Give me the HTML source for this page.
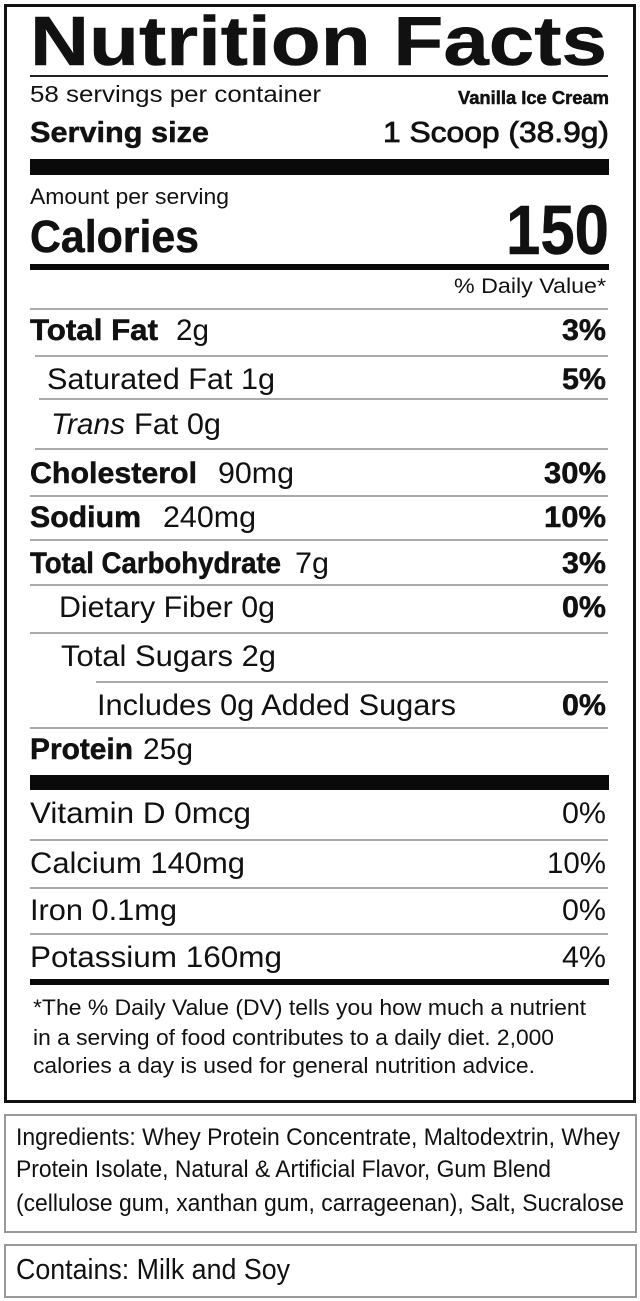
<!DOCTYPE html>
<html><head><meta charset="utf-8"><style>
html,body{margin:0;padding:0;background:#fff;}
svg{display:block;}
text{font-family:"Liberation Sans",Arial,sans-serif;fill:#111;}
.b{font-weight:bold;stroke:#111;stroke-width:0.5;}
</style></head><body>
<svg width="640" height="1301" viewBox="0 0 640 1301" xmlns="http://www.w3.org/2000/svg">
<rect x="0" y="0" width="640" height="1301" fill="#fff"/>
<rect x="5.5" y="5.5" width="629" height="1096" fill="none" stroke="#111" stroke-width="3"/>
<text x="30" y="65" class="b" font-size="70" stroke-width="1.2" textLength="577" lengthAdjust="spacingAndGlyphs">Nutrition Facts</text>
<rect x="30" y="75" width="578" height="2" fill="#222"/>
<text x="30" y="102" font-size="23" textLength="291" lengthAdjust="spacingAndGlyphs">58 servings per container</text>
<text x="609" y="104" class="b" font-size="18" stroke-width="0.2" text-anchor="end" textLength="151" lengthAdjust="spacingAndGlyphs">Vanilla Ice Cream</text>
<text x="30" y="142" class="b" font-size="29" textLength="179" lengthAdjust="spacingAndGlyphs">Serving size</text>
<text x="609" y="142" font-size="29" text-anchor="end" stroke="#111" stroke-width="0.8" textLength="226" lengthAdjust="spacingAndGlyphs">1 Scoop (38.9g)</text>
<rect x="30" y="159" width="579" height="16" fill="#0a0a0a"/>
<text x="30" y="204" font-size="22" textLength="199" lengthAdjust="spacingAndGlyphs">Amount per serving</text>
<text x="30" y="252" class="b" font-size="45" stroke-width="0.8" textLength="169" lengthAdjust="spacingAndGlyphs">Calories</text>
<text x="609" y="254" class="b" font-size="70" stroke-width="0.8" text-anchor="end" textLength="103" lengthAdjust="spacingAndGlyphs">150</text>
<rect x="30" y="264" width="579" height="6" fill="#0a0a0a"/>
<text x="606" y="293" font-size="21" text-anchor="end" textLength="152" lengthAdjust="spacingAndGlyphs">% Daily Value*</text>
<g fill="#aaa">
<rect x="30" y="308" width="578" height="2"/>
<rect x="35" y="355" width="573" height="2"/>
<rect x="39" y="398" width="569" height="2"/>
<rect x="35" y="448" width="573" height="2"/>
<rect x="30" y="495" width="578" height="2"/>
<rect x="30" y="539" width="578" height="2"/>
<rect x="30" y="584" width="578" height="2"/>
<rect x="30" y="632" width="578" height="2"/>
<rect x="96" y="681" width="512" height="2"/>
<rect x="30" y="727" width="578" height="2"/>
<rect x="30" y="839" width="578" height="2"/>
<rect x="30" y="887" width="578" height="2"/>
<rect x="30" y="933" width="578" height="2"/>
</g>
<rect x="30" y="775" width="579" height="15" fill="#0a0a0a"/>
<rect x="30" y="979" width="579" height="6" fill="#0a0a0a"/>

<g font-size="30">
<text x="30" y="340" class="b" textLength="128" lengthAdjust="spacingAndGlyphs">Total Fat</text>
<text x="176" y="340" textLength="33" lengthAdjust="spacingAndGlyphs">2g</text>
<text x="606" y="340" class="b" text-anchor="end" textLength="44" lengthAdjust="spacingAndGlyphs">3%</text>

<text x="47" y="389" textLength="228" lengthAdjust="spacingAndGlyphs">Saturated Fat 1g</text>
<text x="606" y="389" class="b" text-anchor="end" textLength="44" lengthAdjust="spacingAndGlyphs">5%</text>

<text x="51" y="434" font-style="italic" textLength="74" lengthAdjust="spacingAndGlyphs">Trans</text>
<text x="134" y="434" textLength="87" lengthAdjust="spacingAndGlyphs">Fat 0g</text>

<text x="30" y="483" class="b" textLength="167" lengthAdjust="spacingAndGlyphs">Cholesterol</text>
<text x="218" y="483" textLength="76" lengthAdjust="spacingAndGlyphs">90mg</text>
<text x="606" y="483" class="b" text-anchor="end" textLength="62" lengthAdjust="spacingAndGlyphs">30%</text>

<text x="30" y="527" class="b" textLength="111" lengthAdjust="spacingAndGlyphs">Sodium</text>
<text x="163" y="527" textLength="93" lengthAdjust="spacingAndGlyphs">240mg</text>
<text x="606" y="527" class="b" text-anchor="end" textLength="62" lengthAdjust="spacingAndGlyphs">10%</text>

<text x="30" y="573" class="b" textLength="251" lengthAdjust="spacingAndGlyphs">Total Carbohydrate</text>
<text x="295" y="573" textLength="34" lengthAdjust="spacingAndGlyphs">7g</text>
<text x="606" y="573" class="b" text-anchor="end" textLength="44" lengthAdjust="spacingAndGlyphs">3%</text>

<text x="59" y="617" textLength="216" lengthAdjust="spacingAndGlyphs">Dietary Fiber 0g</text>
<text x="606" y="617" class="b" text-anchor="end" textLength="44" lengthAdjust="spacingAndGlyphs">0%</text>

<text x="61" y="666" textLength="215" lengthAdjust="spacingAndGlyphs">Total Sugars 2g</text>

<text x="97" y="715" textLength="359" lengthAdjust="spacingAndGlyphs">Includes 0g Added Sugars</text>
<text x="606" y="715" class="b" text-anchor="end" textLength="44" lengthAdjust="spacingAndGlyphs">0%</text>

<text x="30" y="759" class="b" textLength="103" lengthAdjust="spacingAndGlyphs">Protein</text>
<text x="143" y="759" textLength="50" lengthAdjust="spacingAndGlyphs">25g</text>

<text x="30" y="823" textLength="221" lengthAdjust="spacingAndGlyphs">Vitamin D  0mcg</text>
<text x="606" y="823" text-anchor="end" textLength="44" lengthAdjust="spacingAndGlyphs">0%</text>

<text x="30" y="873" textLength="215" lengthAdjust="spacingAndGlyphs">Calcium  140mg</text>
<text x="606" y="873" text-anchor="end" textLength="59" lengthAdjust="spacingAndGlyphs">10%</text>

<text x="30" y="920" textLength="147" lengthAdjust="spacingAndGlyphs">Iron  0.1mg</text>
<text x="606" y="920" text-anchor="end" textLength="44" lengthAdjust="spacingAndGlyphs">0%</text>

<text x="30" y="967" textLength="252" lengthAdjust="spacingAndGlyphs">Potassium  160mg</text>
<text x="606" y="967" text-anchor="end" textLength="44" lengthAdjust="spacingAndGlyphs">4%</text>
</g>

<g font-size="22" fill="#222">
<text x="33" y="1015" textLength="553" lengthAdjust="spacingAndGlyphs">*The % Daily Value (DV) tells you how much a nutrient</text>
<text x="33" y="1045" textLength="521" lengthAdjust="spacingAndGlyphs">in a serving of food contributes to a daily diet. 2,000</text>
<text x="33" y="1073" textLength="502" lengthAdjust="spacingAndGlyphs">calories a day is used for general nutrition advice.</text>
</g>

<rect x="5" y="1115" width="631" height="117" fill="none" stroke="#999" stroke-width="2"/>
<g font-size="24">
<text x="16" y="1145" textLength="604" lengthAdjust="spacingAndGlyphs">Ingredients: Whey Protein Concentrate, Maltodextrin, Whey</text>
<text x="16" y="1177" textLength="535" lengthAdjust="spacingAndGlyphs">Protein Isolate, Natural &amp; Artificial Flavor, Gum Blend</text>
<text x="16" y="1211" textLength="608" lengthAdjust="spacingAndGlyphs">(cellulose gum, xanthan gum, carrageenan), Salt, Sucralose</text>
</g>

<rect x="5" y="1245" width="631" height="52" fill="none" stroke="#999" stroke-width="2"/>
<text x="16" y="1279" font-size="29" textLength="274" lengthAdjust="spacingAndGlyphs">Contains: Milk and Soy</text>
</svg>
</body></html>
